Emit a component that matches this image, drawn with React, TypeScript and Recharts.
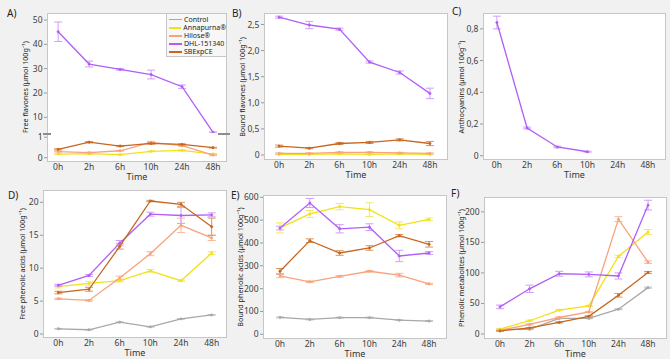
import React from "react";
import { LineChart, Line, XAxis, YAxis, ErrorBar } from "recharts";

const TIMES = ["0h", "2h", "6h", "10h", "24h", "48h"];
const X_TICKS = [0, 1, 2, 3, 4, 5];

// A) free flavones (upper part: DHL only, lower part: the rest)
const freeFlavDhl = [45.2, 31.9, 29.7, 27.6, 22.6, 3.8];
const freeFlavDhlErr = [4, 1.2, 0.3, 1.8, 0.7, 0.2];
const freeFlavAnna = [0.18, 0.2, 0.15, 0.31, 0.36, 0.18];
const freeFlavAnnaErr = [0.02, 0.02, 0.02, 0.02, 0.03, 0.03];
const freeFlavHilose = [0.3, 0.25, 0.34, 0.75, 0.59, 0.13];
const freeFlavHiloseErr = [0.02, 0.02, 0.02, 0.05, 0.04, 0.03];
const freeFlavSbe = [0.41, 0.76, 0.57, 0.7, 0.65, 0.49];
const freeFlavSbeErr = [0.03, 0.03, 0.03, 0.04, 0.03, 0.02];

// B) bound flavones
const boundFlavDhl = [2.64, 2.49, 2.41, 1.78, 1.58, 1.18];
const boundFlavDhlErr = [0.02, 0.07, 0.02, 0.02, 0.03, 0.1];
const boundFlavSbe = [0.17, 0.13, 0.22, 0.24, 0.29, 0.22];
const boundFlavSbeErr = [0.02, 0.01, 0.02, 0.02, 0.02, 0.04];
const boundFlavHilose = [0.03, 0.03, 0.05, 0.05, 0.04, 0.03];
const boundFlavHiloseErr = [0.01, 0.01, 0.01, 0.01, 0.01, 0.01];
const boundFlavAnna = [0.01, 0.01, 0.02, 0.01, 0.02, 0.01];
const boundFlavAnnaErr = [0.005, 0.005, 0.005, 0.005, 0.005, 0.005];

// C) anthocyanins
const anthoDhl = [0.84, 0.175, 0.055, 0.025, null, null];
const anthoDhlErr = [0.04, 0.006, 0.005, 0.003, 0, 0];

// D) free phenolic acids
const freeAcidDhl = [7.4, 8.9, 13.8, 18.2, 18.0, 18.1];
const freeAcidDhlErr = [0.15, 0.15, 0.4, 0.3, 1.2, 0.3];
const freeAcidSbe = [6.3, 6.8, 13.3, 20.2, 19.7, 16.3];
const freeAcidSbeErr = [0.2, 0.3, 0.4, 0.1, 0.3, 1.3];
const freeAcidHilose = [5.35, 5.1, 8.5, 12.2, 16.5, 14.6];
const freeAcidHiloseErr = [0.1, 0.1, 0.3, 0.3, 1.1, 0.4];
const freeAcidAnna = [7.2, 7.7, 8.1, 9.6, 8.1, 12.3];
const freeAcidAnnaErr = [0.2, 0.3, 0.2, 0.2, 0.1, 0.2];
const freeAcidControl = [0.8, 0.65, 1.8, 1.1, 2.3, 2.9];
const freeAcidControlErr = [0.05, 0.05, 0.05, 0.05, 0.05, 0.05];

// E) bound phenolic acids
const boundAcidAnna = [466, 527, 559, 546, 477, 503];
const boundAcidAnnaErr = [22, 15, 14, 30, 15, 6];
const boundAcidDhl = [465, 575, 462, 469, 343, 356];
const boundAcidDhlErr = [8, 20, 18, 15, 25, 6];
const boundAcidSbe = [276, 410, 356, 378, 432, 394];
const boundAcidSbeErr = [12, 8, 10, 10, 5, 12];
const boundAcidHilose = [256, 230, 254, 276, 259, 221];
const boundAcidHiloseErr = [8, 3, 4, 3, 8, 3];
const boundAcidControl = [74, 65, 73, 73, 62, 58];
const boundAcidControlErr = [2, 2, 2, 2, 2, 2];

// F) phenolic metabolites
const metabDhl = [44.4, 74, 98.6, 97.6, 95, 211];
const metabDhlErr = [3, 6, 4, 4, 5, 8];
const metabAnna = [8, 21.7, 39, 46, 127, 167];
const metabAnnaErr = [0.5, 1, 1, 1, 2, 4];
const metabHilose = [6, 15.7, 27, 36, 188, 117.6];
const metabHiloseErr = [0.5, 1, 1, 1, 4, 2];
const metabSbe = [5, 10, 19, 29, 63.4, 100.8];
const metabSbeErr = [0.5, 0.5, 1, 1, 3, 1.5];
const metabControl = [7.6, 7.6, 25.5, 25.5, 40.6, 75.9];
const metabControlErr = [0.5, 0.5, 0.5, 0.5, 0.8, 1];

const SERIES: Record<string, { name: string; color: string; err: string }> = {
  control: { name: "Control", color: "#a8a8a8", err: "#c4c4c4" },
  anna: { name: "Annapurna®", color: "#f0e214", err: "#f3e86a" },
  hilose: { name: "Hilose®", color: "#f8a37c", err: "#f7b898" },
  dhl: { name: "DHL-151340", color: "#b25ef6", err: "#d09dfa" },
  sbe: { name: "SBExpCE", color: "#c7661f", err: "#d8955f" },
};
const ORDER = ["control", "anna", "hilose", "dhl", "sbe"];

type Src = { key: string; vals: (number | null)[]; errs: number[] };

const buildRows = (list: Src[]) =>
  TIMES.map((_, i) => {
    const r: any = { x: i };
    let has = false;
    list.forEach((s) => {
      if (s.vals[i] != null) {
        r[s.key] = s.vals[i];
        r[s.key + "Err"] = s.errs[i];
        has = true;
      }
    });
    return has ? r : null;
  }).filter(Boolean);

const comma1 = (v: number) => (v === 0 ? "0" : v.toFixed(1).replace(".", ","));
const plain = (v: number) => String(v);

const YW = 30;
const TOP = 6;
const TICK = { fontSize: 8.5, fill: "#404040" };

interface Frame {
  x: number;
  y: number;
  w: number;
  h: number;
}

interface PlotProps {
  frame: Frame;
  xDomain: [number, number];
  yDomain: [number, number];
  yTicks: number[];
  fmt: (v: number) => string;
  data: any[];
  keys: string[];
  showX?: boolean;
}

const Plot = ({ frame, xDomain, yDomain, yTicks, fmt, data, keys, showX = true }: PlotProps) => {
  const XH = showX ? 21 : 0;
  return (
    <div style={{ position: "absolute", left: frame.x - YW, top: frame.y - TOP }}>
      <LineChart
        width={frame.w + YW}
        height={frame.h + XH + TOP}
        data={data}
        margin={{ top: TOP, right: 0, bottom: 0, left: 0 }}
      >
        <XAxis
          type="number"
          dataKey="x"
          domain={xDomain}
          ticks={X_TICKS}
          interval={0}
          allowDataOverflow
          tickFormatter={(v) => TIMES[v]}
          hide={!showX}
          height={XH}
          axisLine={false}
          tickLine={false}
          tickSize={0}
          tickMargin={2}
          tick={TICK}
          label={{ value: "Time", position: "insideBottom", offset: 3, fontSize: 9, fill: "#333" }}
        />
        <YAxis
          type="number"
          domain={yDomain}
          ticks={yTicks}
          interval={0}
          allowDataOverflow
          tickFormatter={fmt}
          width={YW}
          axisLine={false}
          tickSize={3}
          tickMargin={1.5}
          tickLine={{ stroke: "#9a9a9a" }}
          tick={TICK}
        />
        {ORDER.filter((k) => keys.includes(k)).map((k) => (
          <Line
            key={k}
            dataKey={k}
            stroke={SERIES[k].color}
            strokeWidth={1.3}
            dot={{ r: 1.2, fill: SERIES[k].color, stroke: SERIES[k].color, strokeWidth: 0.5 }}
            isAnimationActive={false}
          >
            <ErrorBar dataKey={k + "Err"} direction="y" width={4} stroke={SERIES[k].err} strokeWidth={1} />
          </Line>
        ))}
      </LineChart>
    </div>
  );
};

const Box = ({ f }: { f: Frame }) => (
  <div
    style={{
      position: "absolute",
      left: f.x,
      top: f.y,
      width: f.w,
      height: f.h,
      background: "#fff",
      border: "1px solid #c6c6c6",
      boxSizing: "border-box",
    }}
  />
);

const YTitle = ({ cx, cy, text }: { cx: number; cy: number; text: string }) => (
  <div
    style={{
      position: "absolute",
      left: cx,
      top: cy,
      transform: "translate(-50%, -50%) rotate(-90deg)",
      whiteSpace: "nowrap",
      fontSize: 7.2,
      lineHeight: 1,
      color: "#222",
    }}
  >
    {text}
  </div>
);

const Letter = ({ x, y, t }: { x: number; y: number; t: string }) => (
  <div style={{ position: "absolute", left: x, top: y, fontSize: 10, lineHeight: 1, color: "#222" }}>{t}</div>
);

const UNIT = "  (µmol 100g⁻¹)";

export default function App() {
  const fA: Frame = { x: 47, y: 13, w: 180, h: 149 };
  const fAUp: Frame = { x: 47, y: 13, w: 180, h: 120 };
  const fALow: Frame = { x: 47, y: 134, w: 180, h: 28 };
  const fB: Frame = { x: 264, y: 13, w: 184, h: 147 };
  const fC: Frame = { x: 483, y: 13, w: 183, h: 147 };
  const fD: Frame = { x: 43, y: 190, w: 184, h: 148 };
  const fE: Frame = { x: 263, y: 195, w: 184, h: 144 };
  const fF: Frame = { x: 484, y: 197, w: 183, h: 142 };

  const rowsAUp = buildRows([{ key: "dhl", vals: freeFlavDhl, errs: freeFlavDhlErr }]);
  const rowsALow = buildRows([
    { key: "anna", vals: freeFlavAnna, errs: freeFlavAnnaErr },
    { key: "hilose", vals: freeFlavHilose, errs: freeFlavHiloseErr },
    { key: "sbe", vals: freeFlavSbe, errs: freeFlavSbeErr },
  ]);
  const rowsB = buildRows([
    { key: "anna", vals: boundFlavAnna, errs: boundFlavAnnaErr },
    { key: "hilose", vals: boundFlavHilose, errs: boundFlavHiloseErr },
    { key: "dhl", vals: boundFlavDhl, errs: boundFlavDhlErr },
    { key: "sbe", vals: boundFlavSbe, errs: boundFlavSbeErr },
  ]);
  const rowsC = buildRows([{ key: "dhl", vals: anthoDhl, errs: anthoDhlErr }]);
  const rowsD = buildRows([
    { key: "control", vals: freeAcidControl, errs: freeAcidControlErr },
    { key: "anna", vals: freeAcidAnna, errs: freeAcidAnnaErr },
    { key: "hilose", vals: freeAcidHilose, errs: freeAcidHiloseErr },
    { key: "dhl", vals: freeAcidDhl, errs: freeAcidDhlErr },
    { key: "sbe", vals: freeAcidSbe, errs: freeAcidSbeErr },
  ]);
  const rowsE = buildRows([
    { key: "control", vals: boundAcidControl, errs: boundAcidControlErr },
    { key: "anna", vals: boundAcidAnna, errs: boundAcidAnnaErr },
    { key: "hilose", vals: boundAcidHilose, errs: boundAcidHiloseErr },
    { key: "dhl", vals: boundAcidDhl, errs: boundAcidDhlErr },
    { key: "sbe", vals: boundAcidSbe, errs: boundAcidSbeErr },
  ]);
  const rowsF = buildRows([
    { key: "control", vals: metabControl, errs: metabControlErr },
    { key: "anna", vals: metabAnna, errs: metabAnnaErr },
    { key: "hilose", vals: metabHilose, errs: metabHiloseErr },
    { key: "dhl", vals: metabDhl, errs: metabDhlErr },
    { key: "sbe", vals: metabSbe, errs: metabSbeErr },
  ]);

  return (
    <div
      style={{
        position: "relative",
        width: 670,
        height: 359,
        overflow: "hidden",
        background: "#f1f1f1",
        fontFamily: "'Noto Sans', 'Open Sans', sans-serif",
      }}
    >
      <style>{"body{margin:0;}"}</style>
      {[fA, fB, fC, fD, fE, fF].map((f, i) => (
        <Box key={i} f={f} />
      ))}

      {/* A: broken axis */}
      <Plot frame={fAUp} xDomain={[-0.36, 5.45]} yDomain={[3.55, 52.9]} yTicks={[10, 20, 30, 40, 50]} fmt={plain} data={rowsAUp} keys={["dhl"]} showX={false} />
      <Plot frame={fALow} xDomain={[-0.36, 5.45]} yDomain={[-0.21, 1.16]} yTicks={[0, 1]} fmt={plain} data={rowsALow} keys={["anna", "hilose", "sbe"]} />
      <div style={{ position: "absolute", left: 43, top: 132.5, width: 8, height: 2, background: "#8c8c8c" }} />
      <div style={{ position: "absolute", left: 218, top: 132.5, width: 12, height: 2.5, background: "#8c8c8c" }} />
      <div
        style={{
          position: "absolute",
          left: 166,
          top: 13,
          width: 61,
          height: 44,
          background: "#f7f7f7",
          border: "1px solid #c6c6c6",
          boxSizing: "border-box",
          padding: "1.5px 0 0 2px",
        }}
      >
        {ORDER.map((k) => (
          <div
            key={k}
            style={{ display: "flex", alignItems: "center", height: 8.2, lineHeight: "8.2px", fontSize: 7, color: "#222", whiteSpace: "nowrap" }}
          >
            <span style={{ display: "inline-block", width: 13, height: k === "control" ? 1 : 2, background: SERIES[k].color, marginRight: 2 }} />
            {SERIES[k].name}
          </div>
        ))}
      </div>

      <Plot frame={fB} xDomain={[-0.5, 5.6]} yDomain={[-0.096, 2.72]} yTicks={[0, 0.5, 1, 1.5, 2, 2.5]} fmt={comma1} data={rowsB} keys={["anna", "hilose", "dhl", "sbe"]} />
      <Plot frame={fC} xDomain={[-0.46, 5.6]} yDomain={[-0.027, 0.9]} yTicks={[0, 0.2, 0.4, 0.6, 0.8]} fmt={comma1} data={rowsC} keys={["dhl"]} />
      <Plot frame={fD} xDomain={[-0.5, 5.5]} yDomain={[-0.6, 21.87]} yTicks={[0, 5, 10, 15, 20]} fmt={plain} data={rowsD} keys={ORDER} />
      <Plot frame={fE} xDomain={[-0.57, 5.6]} yDomain={[-20.6, 610]} yTicks={[0, 100, 200, 300, 400, 500, 600]} fmt={plain} data={rowsE} keys={ORDER} />
      <Plot frame={fF} xDomain={[-0.54, 5.64]} yDomain={[-8.2, 224.3]} yTicks={[0, 50, 100, 150, 200]} fmt={plain} data={rowsF} keys={ORDER} />

      <YTitle cx={26} cy={87} text={"Free flavones" + UNIT} />
      <YTitle cx={243} cy={87} text={"Bound flavones" + UNIT} />
      <YTitle cx={462} cy={87} text={"Anthocyanins" + UNIT} />
      <YTitle cx={23} cy={264} text={"Free phenolic acids" + UNIT} />
      <YTitle cx={241} cy={267} text={"Bound phenolic acids" + UNIT} />
      <YTitle cx={462} cy={268} text={"Phenolic metabolites" + UNIT} />

      <Letter x={7} y={8} t="A)" />
      <Letter x={232} y={8} t="B)" />
      <Letter x={452} y={6} t="C)" />
      <Letter x={8} y={190} t="D)" />
      <Letter x={231} y={190} t="E)" />
      <Letter x={451} y={188} t="F)" />
    </div>
  );
}
